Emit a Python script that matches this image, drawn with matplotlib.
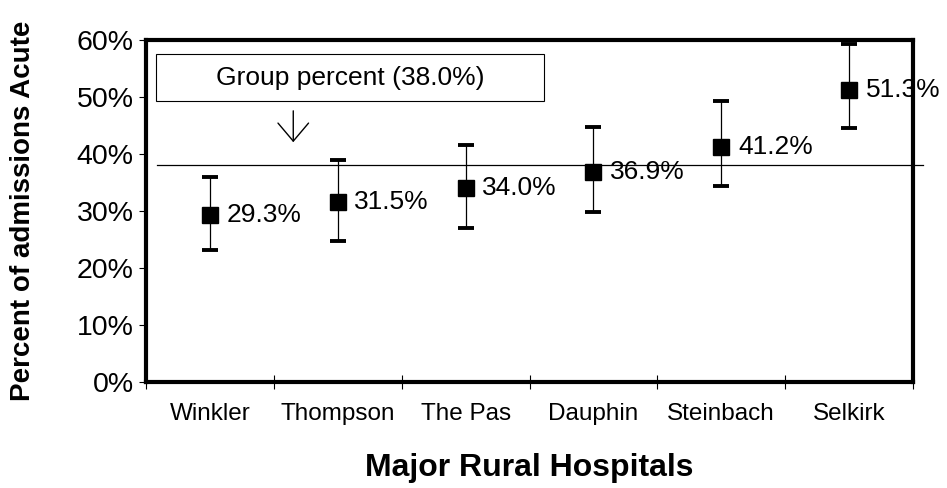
import matplotlib
matplotlib.use('Agg')
import matplotlib.pyplot as plt
from matplotlib.patches import Rectangle
from matplotlib.ticker import FuncFormatter
import numpy as np

# data
hospitals = ['Winkler', 'Thompson', 'The Pas', 'Dauphin', 'Steinbach', 'Selkirk']
pct = [29.3, 31.5, 34.0, 36.9, 41.2, 51.3]
ci_low = [23.2, 24.8, 27.1, 29.9, 34.3, 44.5]
ci_high = [35.9, 38.9, 41.5, 44.7, 49.3, 59.3]
group_pct = 38.0
yticks = [0, 10, 20, 30, 40, 50, 60]

plt.rcParams['font.family'] = ['Liberation Sans', 'DejaVu Sans']

fig = plt.figure(figsize=(9.47, 4.88), dpi=100)
ax = fig.add_axes([146/947, 1-382/488, (913-146)/947, (382-40)/488])

x = np.arange(len(hospitals))
pct = np.array(pct)
yerr = [pct - np.array(ci_low), np.array(ci_high) - pct]

ax.errorbar(x, pct, yerr=yerr, fmt='s', color='black', ms=11,
            ecolor='black', elinewidth=0.9, capsize=5.5, capthick=2.8,
            zorder=3)

for xi, v in zip(x, pct):
    ax.annotate(f'{v:.1f}%', (xi, v), xytext=(12, 0), textcoords='offset points',
                ha='left', va='center', fontsize=19, clip_on=False, zorder=4)

# group reference line (runs slightly past the right frame)
ax.axhline(group_pct, xmin=0.014, xmax=1.013, color='black', lw=0.9,
           clip_on=False, zorder=2)

# label box and arrow
ax.add_patch(Rectangle((0.013, 0.822), 0.506, 0.137, transform=ax.transAxes,
                       fill=False, edgecolor='black', lw=0.8, clip_on=False))
ax.text(0.266, 0.89, f'Group percent ({group_pct:.1f}%)', transform=ax.transAxes,
        ha='center', va='center', fontsize=19)
ax.annotate('', xy=(0.192, 0.693), xytext=(0.192, 0.801),
            xycoords='axes fraction', textcoords='axes fraction',
            arrowprops=dict(arrowstyle='->,head_width=1.1,head_length=1.3',
                            mutation_scale=10, lw=1.0, color='black'))

ax.set_xlim(-0.5, len(hospitals) - 0.5)
ax.set_ylim(0, 60)
ax.set_yticks(yticks)
ax.yaxis.set_major_formatter(FuncFormatter(lambda v, p: f'{v:.0f}%'))
ax.set_xticks(x)
ax.set_xticklabels(hospitals, fontsize=17.5)
ax.set_xticks(np.arange(len(hospitals) + 1) - 0.5, minor=True)
ax.tick_params(axis='x', which='major', length=0, pad=15)
ax.tick_params(axis='x', which='minor', direction='inout', length=10, width=0.8)
ax.tick_params(axis='y', direction='out', length=5, width=0.8, labelsize=20.5, pad=4)

for s in ax.spines.values():
    s.set_linewidth(3)

ax.set_xlabel('Major Rural Hospitals', fontsize=23, fontweight='bold', labelpad=20)
ax.set_ylabel('Percent of admissions Acute', fontsize=20, fontweight='bold')
ax.yaxis.set_label_coords(-0.143, 0.5)

fig.savefig('out.png', dpi=100)
